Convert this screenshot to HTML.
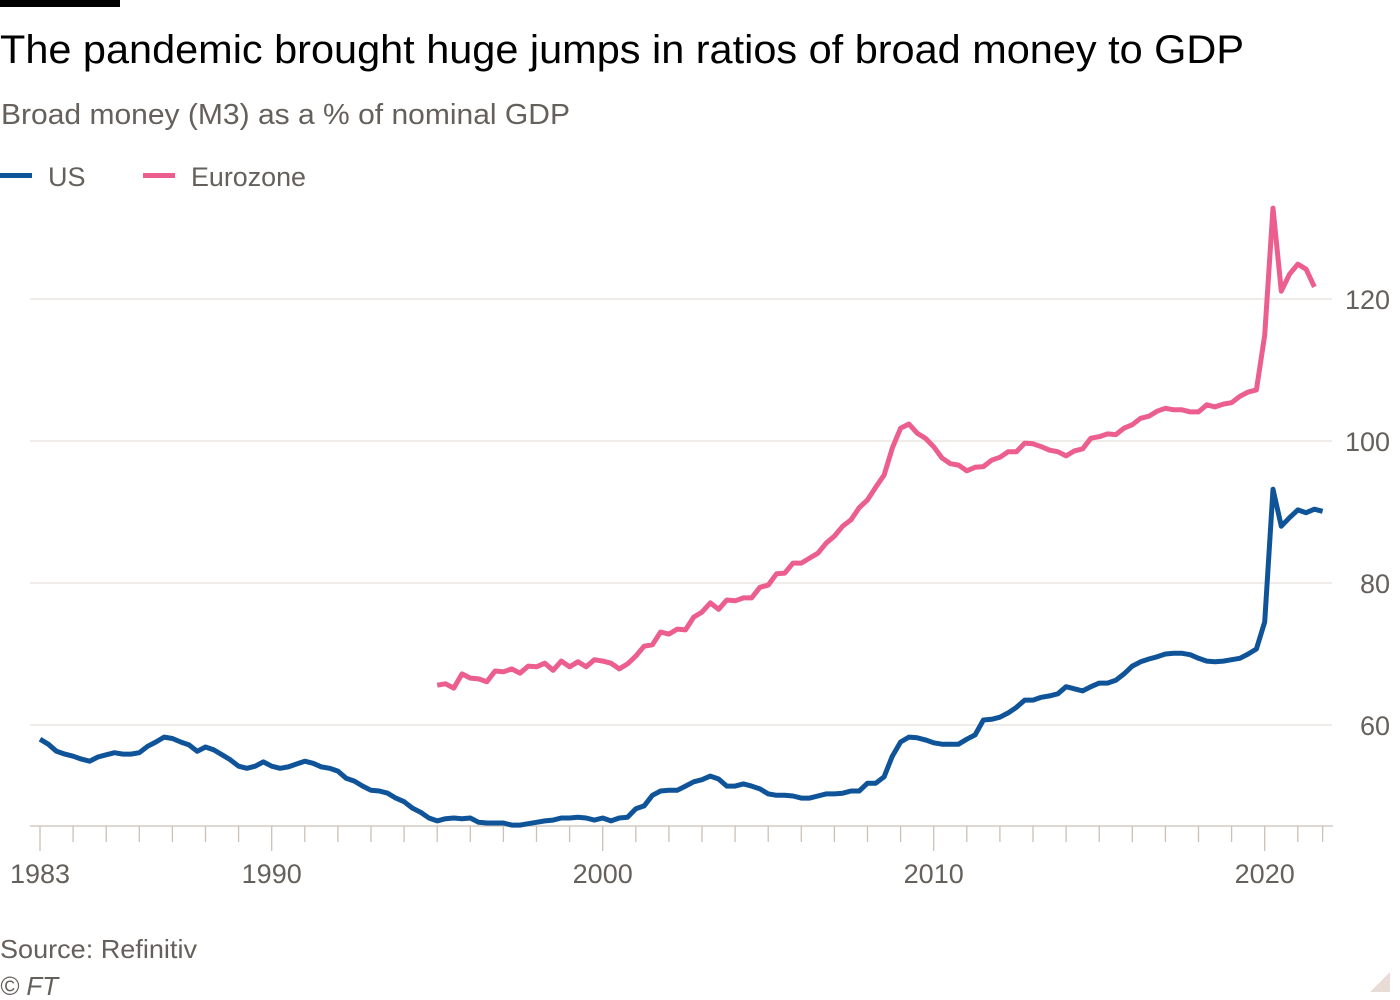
<!DOCTYPE html>
<html><head><meta charset="utf-8"><style>
html,body{margin:0;padding:0;background:#fff;}
svg{display:block;font-family:"Liberation Sans",sans-serif;}
</style></head><body>
<svg id="chart" width="1400" height="1000" viewBox="0 0 1400 1000">
<rect x="0" y="0" width="120" height="7" fill="#000"/>
<text x="0" y="63" font-size="40" fill="#000" textLength="1244" lengthAdjust="spacingAndGlyphs">The pandemic brought huge jumps in ratios of broad money to GDP</text>
<text x="1" y="124" font-size="29" fill="#66605c" textLength="569" lengthAdjust="spacingAndGlyphs">Broad money (M3) as a % of nominal GDP</text>
<g>
<g>
<rect x="0" y="173" width="32" height="5" fill="#0f5499"/>
<text x="48" y="186" font-size="27" fill="#66605c">US</text></g>
<g>
<rect x="143" y="173" width="32" height="5" fill="#eb5e8d"/>
<text x="191" y="186" font-size="27" fill="#66605c" textLength="115" lengthAdjust="spacingAndGlyphs">Eurozone</text></g>
</g>
<g id="grid"></g>
<g id="xaxis"></g>
<g id="yaxis"></g>
<g id="series"></g>
<text x="0" y="958" font-size="26" fill="#66605c" textLength="197" lengthAdjust="spacingAndGlyphs">Source: Refinitiv</text>
<text x="0" y="995" font-size="26" font-style="italic" fill="#66605c">© FT</text>
<polygon points="1390,972 1390,992 1370,992" fill="#e9dcd6"/>
</svg>
<script>
const yTicks = [60, 80, 100, 120];
const xLabels = [1983, 1990, 2000, 2010, 2020];
const usStart = 1983.0;
const usValues = [58.0,57.3,56.3,55.9,55.6,55.2,54.9,55.5,55.8,56.1,55.9,55.9,56.1,57.0,57.6,58.3,58.1,57.6,57.2,56.3,56.9,56.5,55.8,55.1,54.2,53.9,54.2,54.8,54.2,53.9,54.1,54.5,54.9,54.6,54.1,53.9,53.5,52.5,52.1,51.4,50.8,50.7,50.4,49.7,49.2,48.3,47.7,46.9,46.5,46.8,46.9,46.8,46.9,46.3,46.2,46.2,46.2,45.9,45.9,46.1,46.3,46.5,46.6,46.9,46.9,47.0,46.9,46.6,46.9,46.5,46.9,47.0,48.2,48.6,50.1,50.7,50.8,50.8,51.4,52.0,52.3,52.8,52.4,51.4,51.4,51.7,51.4,51.0,50.3,50.1,50.1,50.0,49.7,49.7,50.0,50.3,50.3,50.4,50.7,50.7,51.8,51.8,52.7,55.6,57.6,58.3,58.2,57.9,57.5,57.3,57.3,57.3,58.0,58.6,60.7,60.8,61.1,61.7,62.5,63.5,63.5,63.9,64.1,64.4,65.4,65.1,64.8,65.4,65.9,65.9,66.3,67.2,68.3,68.9,69.3,69.6,70.0,70.1,70.1,69.9,69.4,69.0,68.9,69.0,69.2,69.4,70.0,70.7,74.5,93.2,88.0,89.2,90.3,89.9,90.4,90.1];
const ezStart = 1995.0;
const ezValues = [65.6,65.8,65.2,67.2,66.6,66.5,66.1,67.6,67.5,67.9,67.3,68.3,68.2,68.7,67.7,69.0,68.2,68.9,68.2,69.2,69.0,68.7,67.9,68.6,69.7,71.1,71.3,73.1,72.8,73.5,73.4,75.2,75.9,77.2,76.3,77.6,77.5,77.9,77.9,79.4,79.7,81.3,81.4,82.8,82.8,83.5,84.2,85.6,86.6,88.0,88.9,90.6,91.7,93.5,95.2,99.0,101.8,102.4,101.1,100.4,99.2,97.6,96.8,96.6,95.8,96.3,96.4,97.3,97.7,98.5,98.5,99.7,99.6,99.2,98.7,98.5,97.9,98.6,98.9,100.4,100.6,101.0,100.9,101.8,102.3,103.2,103.5,104.2,104.6,104.4,104.4,104.1,104.1,105.1,104.8,105.2,105.4,106.3,106.9,107.2,114.9,132.8,121.1,123.5,124.9,124.2,121.7];

const NS = "http://www.w3.org/2000/svg";
const X0 = 40, PXY = 33.1;
const xs = yr => X0 + (yr - 1983) * PXY;
const ys = v => 725 - (v - 60) * 7.1;
function mk(tag, attrs, parent) {
  const e = document.createElementNS(NS, tag);
  for (const k in attrs) e.setAttribute(k, attrs[k]);
  parent.appendChild(e); return e;
}
const grid = document.getElementById('grid');
const yaxis = document.getElementById('yaxis');
yTicks.forEach(v => {
  const l = mk('line', {x1: 30, x2: 1332, y1: ys(v), y2: ys(v), stroke: '#e6e0dc', 'stroke-width': 1.3}, grid);
  
  
  const t = mk('text', {x: 1390, y: ys(v) + 10, 'font-size': 27, fill: '#66605c', 'text-anchor': 'end'}, yaxis);
  t.textContent = v;
  
  
});
const xaxis = document.getElementById('xaxis');
const base = mk('line', {x1: 30, x2: 1333, y1: 826, y2: 826, stroke: '#ccc1b7', 'stroke-width': 1.3}, xaxis);


const tickYears = [];
for (let y = 1983; y <= 2021; y++) tickYears.push(y);
tickYears.push(2021.75);
tickYears.forEach(yr => {
  const major = xLabels.includes(yr);
  const t = mk('line', {x1: xs(yr), x2: xs(yr), y1: 826, y2: major ? 851 : 842, stroke: '#ccc1b7', 'stroke-width': 1.3}, xaxis);
  
  
});
xLabels.forEach(yr => {
  const t = mk('text', {x: xs(yr), y: 883, 'font-size': 27, fill: '#66605c', 'text-anchor': 'middle'}, xaxis);
  t.textContent = yr;
  
  
});
const series = document.getElementById('series');
function line(start, vals, color, name) {
  const pts = vals.map((v, i) => xs(start + i * 0.25).toFixed(1) + ',' + ys(v).toFixed(1)).join(' ');
  const p = mk('polyline', {points: pts, fill: 'none', stroke: color, 'stroke-width': 5, 'stroke-linejoin': 'round'}, series);
  
  
}
line(ezStart, ezValues, '#eb5e8d', 'eurozone-line');
line(usStart, usValues, '#0f5499', 'us-line');
</script>
</body></html>
